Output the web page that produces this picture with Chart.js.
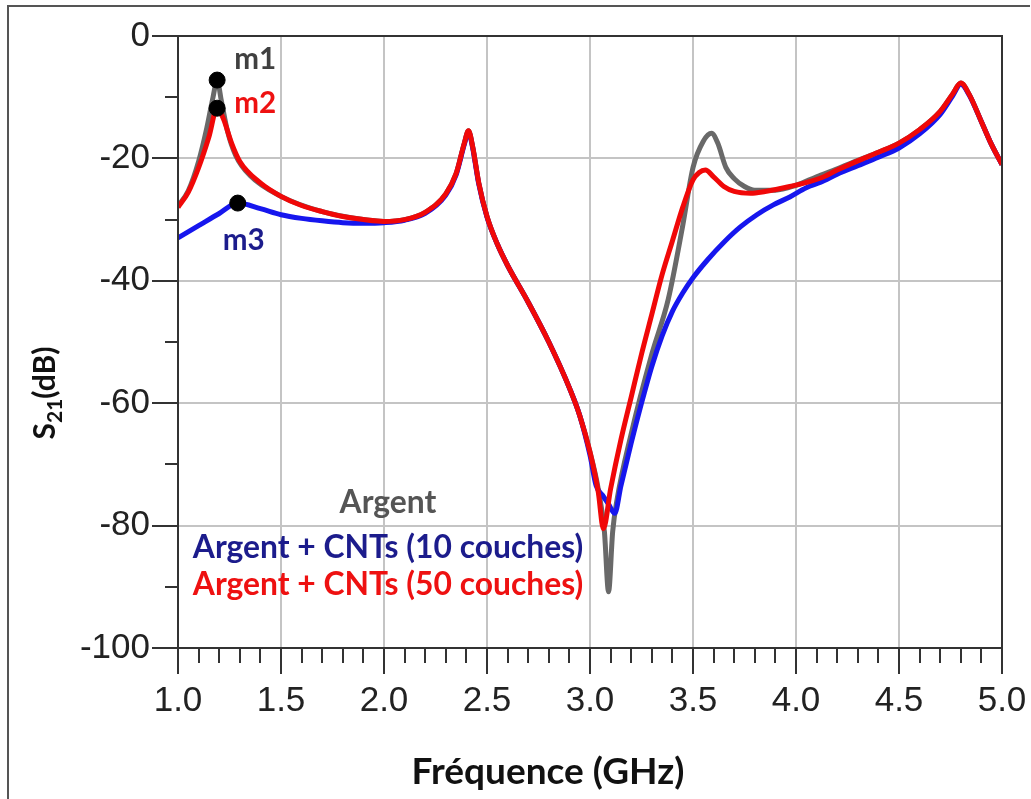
<!DOCTYPE html>
<html lang="fr">
<head>
    <meta charset="UTF-8">
    <title>S21 - Argent / CNTs</title>
    <script src="https://cdn.jsdelivr.net/npm/chart.js"></script>
    <style>
        body { margin: 0; background: #ffffff; }
        canvas { display: block; }
    </style>
</head>
<body>
    <canvas id="s21Chart" width="1031" height="799"></canvas>

    <script>
        // --- data (GHz / dB) ---
        let freqArgent = [1.0, 1.05, 1.1, 1.14, 1.17, 1.19, 1.21, 1.24, 1.28, 1.35, 1.5, 1.7, 1.9, 2.0, 2.1, 2.2, 2.3, 2.35, 2.39, 2.41, 2.43, 2.46, 2.5, 2.55, 2.6, 2.7, 2.8, 2.9, 2.95, 3.0, 3.04, 3.07, 3.09, 3.11, 3.13, 3.2, 3.3, 3.38, 3.45, 3.5, 3.55, 3.59, 3.62, 3.66, 3.7, 3.75, 3.8, 3.9, 4.0, 4.1, 4.2, 4.3, 4.4, 4.5, 4.6, 4.7, 4.76, 4.8, 4.84, 4.9, 4.95, 5.0];
        let s21Argent  = [-27.8, -25.3, -20.5, -15.0, -10.0, -7.2, -10.5, -15.5, -19.5, -22.8, -26.2, -28.7, -30.0, -30.3, -30.0, -28.8, -25.8, -22.5, -17.5, -15.5, -18.0, -24.0, -29.5, -34.0, -37.5, -43.5, -50.0, -57.5, -62.0, -68.0, -74.0, -81.0, -90.8, -81.0, -76.0, -65.0, -52.0, -43.0, -31.0, -21.5, -17.2, -15.9, -17.5, -21.5, -23.3, -24.6, -25.2, -25.2, -24.4, -23.0, -21.7, -20.3, -19.0, -17.5, -15.3, -12.3, -9.5, -7.7, -9.5, -14.0, -17.8, -21.0];

        let freq10 = [1.0, 1.1, 1.2, 1.29, 1.4, 1.5, 1.6, 1.7, 1.8, 1.9, 2.0, 2.1, 2.2, 2.3, 2.35, 2.39, 2.41, 2.43, 2.46, 2.5, 2.55, 2.6, 2.7, 2.8, 2.9, 2.95, 3.0, 3.03, 3.06, 3.09, 3.12, 3.15, 3.2, 3.25, 3.3, 3.35, 3.4, 3.45, 3.5, 3.57, 3.65, 3.73, 3.81, 3.89, 3.97, 4.05, 4.12, 4.2, 4.3, 4.4, 4.5, 4.6, 4.7, 4.76, 4.8, 4.84, 4.9, 4.95, 5.0];
        let s21Cnt10  = [-33.0, -31.0, -29.0, -27.3, -28.2, -29.2, -29.8, -30.2, -30.5, -30.6, -30.5, -30.1, -29.0, -26.0, -22.7, -17.7, -15.7, -18.2, -24.2, -29.6, -34.0, -37.5, -43.5, -50.0, -57.5, -62.0, -68.5, -73.5, -75.0, -76.5, -78.0, -73.5, -66.5, -60.0, -54.0, -49.0, -45.0, -42.0, -39.5, -36.6, -33.7, -31.2, -29.2, -27.6, -26.3, -24.8, -23.9, -22.6, -21.2, -19.8, -18.3, -16.0, -12.8, -9.8, -7.9, -9.6, -14.0, -17.8, -21.0];

        let freq50 = [1.0, 1.05, 1.1, 1.15, 1.19, 1.22, 1.26, 1.3, 1.4, 1.5, 1.6, 1.7, 1.8, 1.9, 2.0, 2.1, 2.2, 2.3, 2.35, 2.39, 2.41, 2.43, 2.46, 2.5, 2.55, 2.6, 2.7, 2.8, 2.9, 2.95, 3.0, 3.04, 3.065, 3.1, 3.15, 3.2, 3.25, 3.3, 3.35, 3.4, 3.45, 3.5, 3.53, 3.56, 3.6, 3.65, 3.7, 3.78, 3.85, 3.97, 4.12, 4.2, 4.3, 4.4, 4.5, 4.6, 4.7, 4.76, 4.8, 4.84, 4.9, 4.95, 5.0];
        let s21Cnt50  = [-28.0, -25.5, -21.5, -16.5, -11.8, -13.5, -17.5, -20.5, -24.0, -26.2, -27.7, -28.7, -29.5, -30.0, -30.3, -30.0, -28.8, -25.8, -22.5, -17.5, -15.5, -18.0, -24.0, -29.5, -34.0, -37.5, -43.5, -50.0, -57.5, -62.0, -68.0, -74.5, -80.5, -74.0, -66.0, -59.0, -52.0, -45.5, -39.0, -33.5, -28.0, -23.5, -22.3, -21.9, -23.0, -24.6, -25.4, -25.7, -25.4, -24.6, -23.2, -21.9, -20.4, -19.0, -17.5, -15.3, -12.3, -9.5, -7.7, -9.5, -14.0, -17.8, -21.0];

        let markerNames = ['m1', 'm2', 'm3'];
        let markerFreq  = [1.19, 1.19, 1.29];
        let markerS21   = [-7.2, -11.8, -27.3];

        let seriesNames = ['Argent', 'Argent + CNTs (10 couches)', 'Argent + CNTs (50 couches)'];
        let xTicks = [1.0, 1.5, 2.0, 2.5, 3.0, 3.5, 4.0, 4.5, 5.0];
        let yTicks = [0, -20, -40, -60, -80, -100];

        function toPoints(xs, ys) {
            return xs.map((x, i) => ({ x: x, y: ys[i] }));
        }

        // fit a bold font so that text spans the wanted width
        function fitFont(ctx, text, width, family) {
            ctx.font = 'bold 100px ' + family;
            let size = 100 * width / ctx.measureText(text).width;
            return 'bold ' + size.toFixed(1) + 'px ' + family;
        }

        let decorPlugin = {
            id: 'decor',
            afterDraw(chart) {
                let ctx = chart.ctx;
                let area = chart.chartArea;
                let xs = chart.scales.x, ys = chart.scales.y;
                ctx.save();

                // outer picture frame
                ctx.strokeStyle = '#555555';
                ctx.lineWidth = 2;
                ctx.beginPath();
                ctx.moveTo(8, 799);
                ctx.lineTo(8, 6);
                ctx.lineTo(1030, 6);
                ctx.stroke();

                // plot frame
                ctx.strokeStyle = '#333333';
                ctx.lineWidth = 2;
                ctx.strokeRect(area.left, area.top, area.right - area.left, area.bottom - area.top);

                // tick marks, majors and minors
                ctx.beginPath();
                for (let v = 0; v >= -100; v -= 10) {
                    let py = Math.round(ys.getPixelForValue(v));
                    let len = (v % 20 === 0) ? 26 : 13;
                    ctx.moveTo(area.left - len, py);
                    ctx.lineTo(area.left, py);
                }
                for (let k = 0; k <= 40; k++) {
                    let px = Math.round(xs.getPixelForValue(1 + k / 10));
                    let len = (k % 5 === 0) ? 26 : 15;
                    ctx.moveTo(px, area.bottom);
                    ctx.lineTo(px, area.bottom + len);
                }
                ctx.stroke();

                ctx.textAlign = 'center';
                ctx.textBaseline = 'middle';

                // marker names
                let markerColors = ['#404040', '#ee1111', '#1c1c8c'];
                let markerOffsets = [[38, -21], [38, -5], [6, 37]];
                markerNames.forEach((name, i) => {
                    ctx.font = fitFont(ctx, name, 42, 'Lato');
                    ctx.fillStyle = markerColors[i];
                    ctx.fillText(name,
                        xs.getPixelForValue(markerFreq[i]) + markerOffsets[i][0],
                        ys.getPixelForValue(markerS21[i]) + markerOffsets[i][1]);
                });

                // series captions
                ctx.font = fitFont(ctx, seriesNames[1], 390, 'Lato');
                ctx.fillStyle = '#555555';
                ctx.fillText(seriesNames[0], 388, 503);
                ctx.fillStyle = '#1c1c8c';
                ctx.fillText(seriesNames[1], 388, 548);
                ctx.fillStyle = '#ee1111';
                ctx.fillText(seriesNames[2], 388, 585);

                // x axis title
                ctx.fillStyle = '#111111';
                ctx.font = fitFont(ctx, 'Fréquence (GHz)', 273, 'Lato');
                ctx.fillText('Fréquence (GHz)', 548, 772);

                // y axis title with subscript
                ctx.translate(45, 393);
                ctx.rotate(-Math.PI / 2);
                let big = 30, small = 21;
                ctx.font = 'bold ' + big + 'px Lato';
                let wS = ctx.measureText('S').width;
                let wT = ctx.measureText('(dB)').width;
                ctx.font = 'bold ' + small + 'px Lato';
                let wSub = ctx.measureText('21').width;
                let x0 = -(wS + wSub + wT) / 2;
                ctx.textAlign = 'left';
                ctx.textBaseline = 'alphabetic';
                ctx.font = 'bold ' + big + 'px Lato';
                ctx.fillText('S', x0, 10);
                ctx.font = 'bold ' + small + 'px Lato';
                ctx.fillText('21', x0 + wS, 17);
                ctx.font = 'bold ' + big + 'px Lato';
                ctx.fillText('(dB)', x0 + wS + wSub, 10);

                ctx.restore();
            }
        };

        let ctx = document.getElementById('s21Chart').getContext('2d');

        let s21Chart = new Chart(ctx, {
            type: 'line',
            data: {
                datasets: [
                    {
                        type: 'scatter',
                        label: 'markers',
                        data: toPoints(markerFreq, markerS21),
                        pointRadius: 8,
                        pointBackgroundColor: '#000000',
                        pointBorderColor: '#000000',
                        showLine: false,
                        order: 0
                    },
                    {
                        label: seriesNames[2],
                        data: toPoints(freq50, s21Cnt50),
                        borderColor: 'rgb(240, 8, 8)',
                        borderWidth: 5,
                        pointRadius: 0,
                        cubicInterpolationMode: 'monotone',
                        order: 1
                    },
                    {
                        label: seriesNames[1],
                        data: toPoints(freq10, s21Cnt10),
                        borderColor: 'rgb(22, 22, 238)',
                        borderWidth: 5,
                        pointRadius: 0,
                        cubicInterpolationMode: 'monotone',
                        order: 2
                    },
                    {
                        label: seriesNames[0],
                        data: toPoints(freqArgent, s21Argent),
                        borderColor: 'rgb(105, 105, 105)',
                        borderWidth: 5,
                        pointRadius: 0,
                        cubicInterpolationMode: 'monotone',
                        order: 3
                    }
                ]
            },
            options: {
                responsive: false,
                animation: false,
                layout: { padding: { left: 0, top: 36, right: 29, bottom: 0 } },
                plugins: {
                    legend: { display: false },
                    tooltip: { enabled: false }
                },
                scales: {
                    x: {
                        type: 'linear',
                        min: 1.0,
                        max: 5.0,
                        afterFit: (scale) => {
                            scale.height = 151;
                            scale.paddingLeft = 0;
                            scale.paddingRight = 0;
                        },
                        afterBuildTicks: (scale) => { scale.ticks = xTicks.map(v => ({ value: v })); },
                        border: { color: '#333333', width: 2 },
                        grid: { color: '#c4c4c4', lineWidth: 2, drawTicks: false },
                        ticks: {
                            padding: 32,
                            color: '#222222',
                            font: { family: 'Liberation Sans', size: 35 },
                            callback: (v) => Number(v).toFixed(1)
                        }
                    },
                    y: {
                        type: 'linear',
                        min: -100,
                        max: 0,
                        afterFit: (scale) => {
                            scale.width = 178;
                            scale.paddingTop = 0;
                            scale.paddingBottom = 0;
                        },
                        afterBuildTicks: (scale) => { scale.ticks = yTicks.map(v => ({ value: v })); },
                        border: { color: '#333333', width: 2 },
                        grid: { color: '#c4c4c4', lineWidth: 2, drawTicks: false },
                        ticks: {
                            padding: 28,
                            color: '#222222',
                            font: { family: 'Liberation Sans', size: 35 }
                        }
                    }
                }
            },
            plugins: [decorPlugin]
        });
    </script>
</body>
</html>
